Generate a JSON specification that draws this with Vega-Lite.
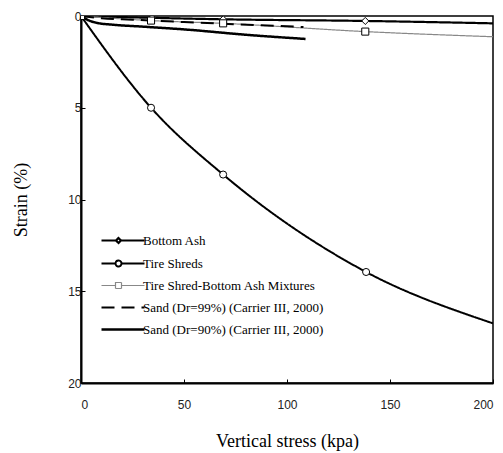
{
  "$schema": "https://vega.github.io/schema/vega-lite/v6.json",
  "width": 412,
  "height": 367,
  "autosize": "none",
  "padding": {"left": 81, "top": 16, "right": 10, "bottom": 70},
  "background": "white",
  "config": {
    "view": {"stroke": "black", "strokeWidth": 1.5},
    "axis": {
      "grid": false,
      "domainColor": "black",
      "domainWidth": 2,
      "tickColor": "black",
      "tickSize": -4,
      "tickWidth": 1,
      "labelFont": "Liberation Sans",
      "labelFontSize": 12,
      "labelColor": "#222",
      "titleFont": "Liberation Serif",
      "titleFontSize": 18,
      "titleFontWeight": "normal",
      "titleColor": "black"
    }
  },
  "datasets": {
    "curves": [
      {"series": "Bottom Ash", "stress": 0, "strain": 0},
      {"series": "Bottom Ash", "stress": 34.5, "strain": 0.1},
      {"series": "Bottom Ash", "stress": 69, "strain": 0.18},
      {"series": "Bottom Ash", "stress": 138, "strain": 0.27},
      {"series": "Bottom Ash", "stress": 200, "strain": 0.4},
      {"series": "Tire Shreds", "stress": 0, "strain": 0},
      {"series": "Tire Shreds", "stress": 34, "strain": 5.0},
      {"series": "Tire Shreds", "stress": 69, "strain": 8.64},
      {"series": "Tire Shreds", "stress": 138.4, "strain": 13.95},
      {"series": "Tire Shreds", "stress": 200, "strain": 16.75},
      {"series": "Tire Shred-Bottom Ash Mixtures", "stress": 0, "strain": 0},
      {"series": "Tire Shred-Bottom Ash Mixtures", "stress": 34, "strain": 0.25},
      {"series": "Tire Shred-Bottom Ash Mixtures", "stress": 69, "strain": 0.4},
      {"series": "Tire Shred-Bottom Ash Mixtures", "stress": 138, "strain": 0.85},
      {"series": "Tire Shred-Bottom Ash Mixtures", "stress": 200, "strain": 1.13},
      {"series": "Sand (Dr=99%) (Carrier III, 2000)", "stress": 0, "strain": 0},
      {"series": "Sand (Dr=99%) (Carrier III, 2000)", "stress": 10, "strain": 0.12},
      {"series": "Sand (Dr=99%) (Carrier III, 2000)", "stress": 25, "strain": 0.2},
      {"series": "Sand (Dr=99%) (Carrier III, 2000)", "stress": 50, "strain": 0.33},
      {"series": "Sand (Dr=99%) (Carrier III, 2000)", "stress": 75, "strain": 0.45},
      {"series": "Sand (Dr=99%) (Carrier III, 2000)", "stress": 108, "strain": 0.6},
      {"series": "Sand (Dr=90%) (Carrier III, 2000)", "stress": 0, "strain": 0},
      {"series": "Sand (Dr=90%) (Carrier III, 2000)", "stress": 3, "strain": 0.2},
      {"series": "Sand (Dr=90%) (Carrier III, 2000)", "stress": 8, "strain": 0.38},
      {"series": "Sand (Dr=90%) (Carrier III, 2000)", "stress": 15, "strain": 0.47},
      {"series": "Sand (Dr=90%) (Carrier III, 2000)", "stress": 30, "strain": 0.58},
      {"series": "Sand (Dr=90%) (Carrier III, 2000)", "stress": 50, "strain": 0.73},
      {"series": "Sand (Dr=90%) (Carrier III, 2000)", "stress": 82, "strain": 1.04},
      {"series": "Sand (Dr=90%) (Carrier III, 2000)", "stress": 109, "strain": 1.25}
    ],
    "markers": [
      {"series": "Bottom Ash", "stress": 0, "strain": 0},
      {"series": "Bottom Ash", "stress": 34.5, "strain": 0.1},
      {"series": "Bottom Ash", "stress": 69, "strain": 0.18},
      {"series": "Bottom Ash", "stress": 138, "strain": 0.27},
      {"series": "Tire Shreds", "stress": 0, "strain": 0},
      {"series": "Tire Shreds", "stress": 34, "strain": 5.0},
      {"series": "Tire Shreds", "stress": 69, "strain": 8.64},
      {"series": "Tire Shreds", "stress": 138.4, "strain": 13.95},
      {"series": "Tire Shred-Bottom Ash Mixtures", "stress": 0, "strain": 0},
      {"series": "Tire Shred-Bottom Ash Mixtures", "stress": 34, "strain": 0.25},
      {"series": "Tire Shred-Bottom Ash Mixtures", "stress": 69, "strain": 0.4},
      {"series": "Tire Shred-Bottom Ash Mixtures", "stress": 138, "strain": 0.85}
    ]
  },
  "encoding": {
    "x": {
      "field": "stress", "type": "quantitative",
      "scale": {"domain": [0, 200], "nice": false},
      "axis": {"values": [0, 50, 100, 150, 200], "title": "Vertical stress (kpa)", "labelPadding": 20, "titlePadding": 22}
    },
    "y": {
      "field": "strain", "type": "quantitative",
      "scale": {"domain": [0, 20], "reverse": true, "nice": false},
      "axis": {"values": [0, 5, 10, 15, 20], "title": "Strain (%)", "labelPadding": 4, "titleX": -60, "titleBaseline": "middle"}
    }
  },
  "layer": [
    {
      "data": {"name": "curves"},
      "mark": {"type": "line", "interpolate": "monotone", "clip": true},
      "encoding": {
        "detail": {"field": "series"},
        "stroke": {
          "field": "series", "type": "nominal",
          "scale": {
            "domain": ["Bottom Ash", "Tire Shreds", "Tire Shred-Bottom Ash Mixtures", "Sand (Dr=99%) (Carrier III, 2000)", "Sand (Dr=90%) (Carrier III, 2000)"],
            "range": ["black", "black", "#888888", "black", "black"]
          },
          "legend": {
            "orient": "none",
            "legendX": 19,
            "legendY": 218,
            "title": null,
            "padding": 0,
            "labelFont": "Liberation Serif",
            "labelFontSize": 13,
            "labelColor": "black",
            "labelLimit": 400,
            "labelOffset": 30,
            "rowPadding": 8,
            "symbolSize": 100,
            "symbolType": "M-1,0H7.6",
            "encode": {
              "symbols": {
                "update": {
                  "shape": {"signal": "datum.value === 'Bottom Ash' ? 'M-1,0H1.9M2.9,0H7.6M2.4,-0.5L2.9,0L2.4,0.5L1.9,0Z' : datum.value === 'Tire Shreds' ? 'M-1,0H1.8M3,0H7.6M1.8,0A0.6,0.6,0,1,0,3,0A0.6,0.6,0,1,0,1.8,0Z' : datum.value === 'Tire Shred-Bottom Ash Mixtures' ? 'M-1,0H1.8M3,0H7.6M1.8,-0.6H3V0.6H1.8Z' : 'M-1,0H7.6'"},
                  "strokeDash": {"signal": "datum.value === 'Sand (Dr=99%) (Carrier III, 2000)' ? [13, 7] : [1, 0]"},
                  "strokeWidth": {"signal": "datum.value === 'Sand (Dr=90%) (Carrier III, 2000)' ? 2.8 : datum.value === 'Tire Shred-Bottom Ash Mixtures' ? 1.2 : datum.value === 'Tire Shreds' ? 1.5 : 2.2"},
                  "fill": {"value": "white"}
                }
              }
            }
          }
        },
        "strokeDash": {
          "field": "series", "type": "nominal",
          "scale": {
            "domain": ["Bottom Ash", "Tire Shreds", "Tire Shred-Bottom Ash Mixtures", "Sand (Dr=99%) (Carrier III, 2000)", "Sand (Dr=90%) (Carrier III, 2000)"],
            "range": [[1, 0], [1, 0], [1, 0], [13, 7], [1, 0]]
          },
          "legend": null
        },
        "strokeWidth": {
          "field": "series", "type": "nominal",
          "scale": {
            "type": "ordinal",
            "domain": ["Bottom Ash", "Tire Shreds", "Tire Shred-Bottom Ash Mixtures", "Sand (Dr=99%) (Carrier III, 2000)", "Sand (Dr=90%) (Carrier III, 2000)"],
            "range": [2.2, 2, 1.2, 2, 2.5]
          },
          "legend": null
        }
      }
    },
    {
      "data": {"name": "markers"},
      "mark": {"type": "point", "filled": false, "fill": "white", "fillOpacity": 1, "stroke": "black", "strokeWidth": 1, "size": 50, "clip": true},
      "encoding": {
        "shape": {
          "field": "series", "type": "nominal",
          "scale": {
            "domain": ["Bottom Ash", "Tire Shreds", "Tire Shred-Bottom Ash Mixtures"],
            "range": ["diamond", "circle", "square"]
          },
          "legend": null
        }
      }
    }
  ]
}
